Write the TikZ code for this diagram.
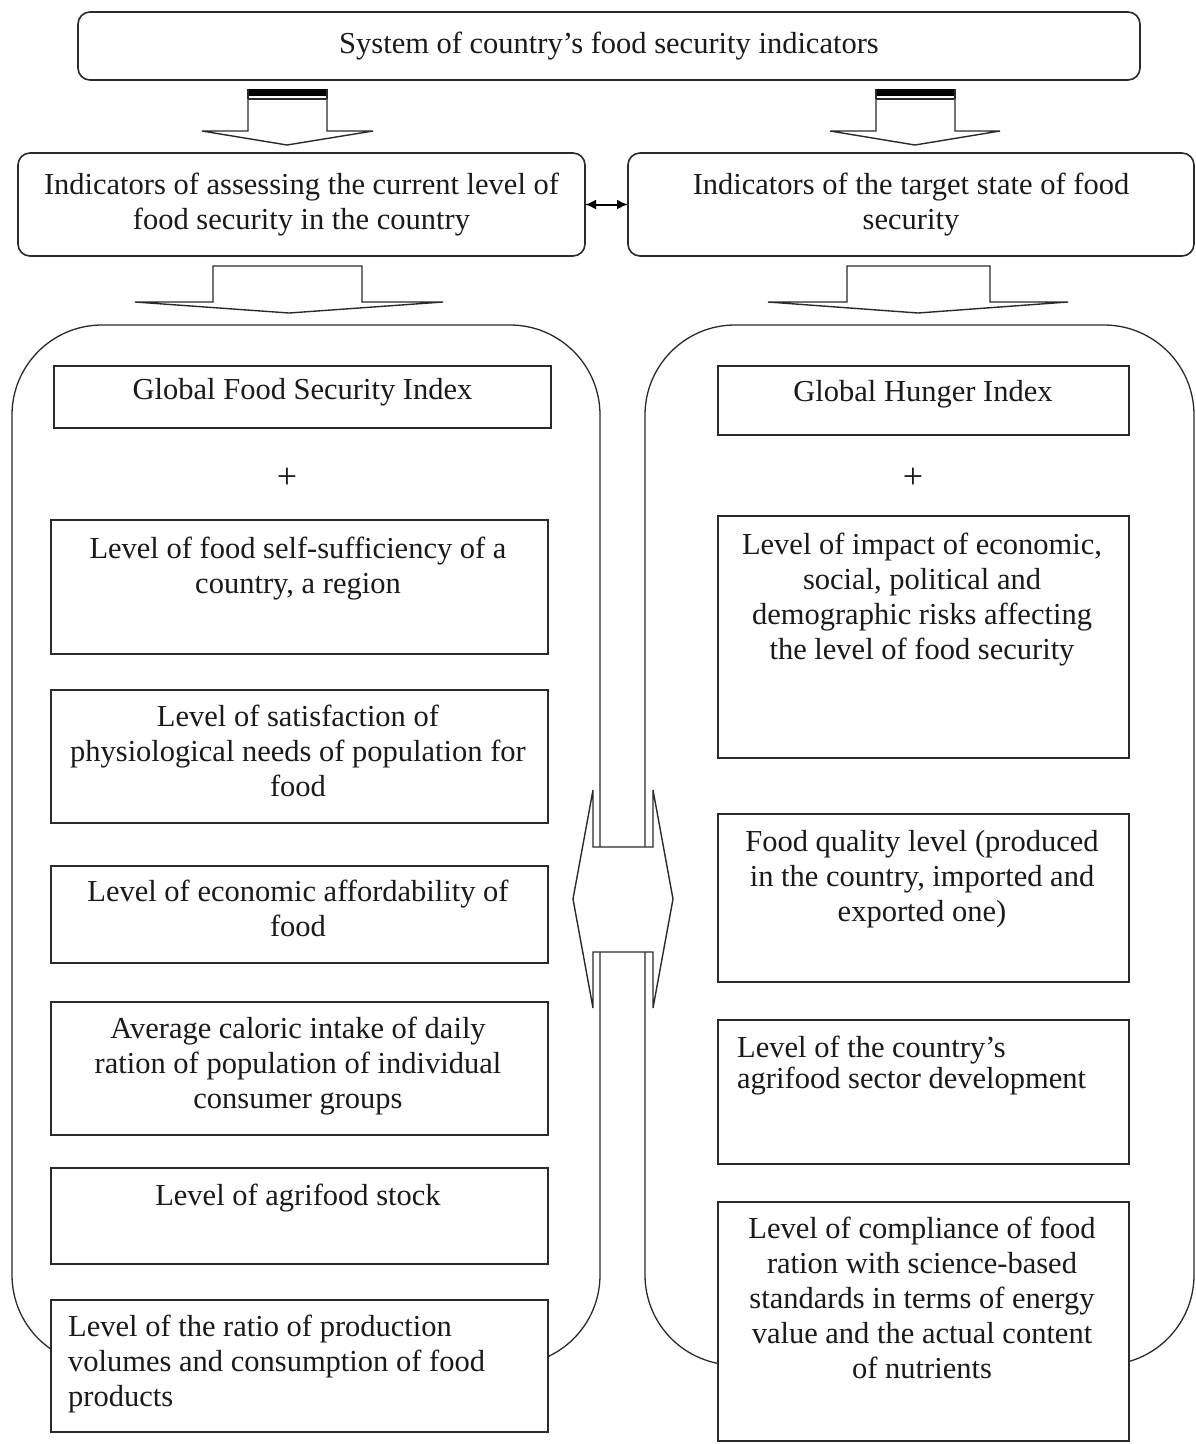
\documentclass[tikz,border=0pt]{standalone}
\usepackage{fontspec}
\setmainfont{Liberation Serif}
\usetikzlibrary{arrows.meta,calc}
\definecolor{linec}{HTML}{2A2A2A}
\definecolor{textc}{HTML}{1A1A1A}
\newcommand{\mkbox}[6][]{\node[box,#1,minimum width={#4-#2},minimum height={#5-#3}] (#6) at ({(#2+#4)/2},{(#3+#5)/2}) {};}
\begin{document}
\begin{tikzpicture}[x=1pt,y=-1pt,
  box/.style={draw=linec,line width=1.6pt,fill=white,inner sep=0pt,outer sep=0pt},
  rbox/.style={box,rounded corners=12pt},
  cont/.style={draw=linec,line width=1.3pt,rounded corners=90pt},
  blk/.style={draw=linec,line width=1.4pt,fill=white,line join=miter},
  txt/.style={anchor=north,inner sep=0pt,align=center,text=textc,font=\fontsize{30.5pt}{35pt}\selectfont},
  ltxt/.style={txt,anchor=north west,align=left}]
\useasboundingbox (0,0) rectangle (1196,1444);
% containers
\draw[cont] (12,325) rectangle (600,1365);
\draw[cont] (645,325) rectangle (1194,1365);
% top box and middle boxes
\mkbox[rbox]{78}{12}{1140}{80}{top}
\mkbox[rbox]{18}{153}{585}{256}{midL}
\mkbox[rbox]{628}{153}{1194}{256}{midR}
\draw[{Latex[length=11pt,width=10pt]}-{Latex[length=11pt,width=10pt]},line width=2pt,draw=black] (midL.east) -- (midR.west);
% top block arrows
\fill[black] (248,89) rectangle (327,96);
\draw[blk] (248,99) -- (248,131) -- (202,131) -- (287,145) -- (373,131) -- (327,131) -- (327,99);
\draw[linec,line width=1.4pt] (248,89) -- (248,99) (327,89) -- (327,99) (248,99) -- (327,99);
\fill[black] (876,89) rectangle (955,96);
\draw[blk] (876,99) -- (876,131) -- (830,131) -- (915,145) -- (1000,131) -- (955,131) -- (955,99);
\draw[linec,line width=1.4pt] (876,89) -- (876,99) (955,89) -- (955,99) (876,99) -- (955,99);
% lower block arrows
\draw[blk] (213,266) -- (213,302) -- (135,302) -- (289,313) -- (443,302) -- (362,302) -- (362,266) -- cycle;
\draw[blk] (847,266) -- (847,302) -- (768,302) -- (918,313) -- (1068,302) -- (990,302) -- (990,266) -- cycle;
% middle double block arrow
\draw[blk] (573,899) -- (593,790) -- (593,847) -- (653,847) -- (653,790) -- (673,899) -- (653,1008) -- (653,952) -- (593,952) -- (593,1008) -- cycle;
% left column
\mkbox{54}{366}{551}{428}{gfsi}
\mkbox{51}{520}{548}{654}{selfs}
\mkbox{51}{690}{548}{823}{satis}
\mkbox{51}{866}{548}{963}{afford}
\mkbox{51}{1002}{548}{1135}{calor}
\mkbox{51}{1168}{548}{1264}{stock}
\mkbox{51}{1300}{548}{1432}{ratio}
% right column
\mkbox{718}{366}{1129}{435}{ghi}
\mkbox{718}{516}{1129}{758}{impact}
\mkbox{718}{814}{1129}{982}{quality}
\mkbox{718}{1020}{1129}{1164}{agri}
\mkbox{718}{1202}{1129}{1441}{compl}
% texts
\node[txt] (t-top) at (609,28.5) {\strut System of country’s food security indicators};
\node[txt] (t-midL) at (301.5,169.5) {\strut Indicators of assessing the current level of\\food security in the country};
\node[txt] (t-midR) at (911,169.5) {\strut Indicators of the target state of food\\security};
\node[txt] (t-gfsi) at (302.5,374.5) {\strut Global Food Security Index};
\node[txt,font=\fontsize{36pt}{35pt}\selectfont] (t-plusL) at (287,464) {\strut +};
\node[txt] (t-selfs) at (298,533.5) {\strut Level of food self-sufficiency of a\\country, a region};
\node[txt] (t-satis) at (298,701.5) {\strut Level of satisfaction of\\physiological needs of population for\\food};
\node[txt] (t-afford) at (298,876.5) {\strut Level of economic affordability of\\food};
\node[txt] (t-calor) at (298,1013.5) {\strut Average caloric intake of daily\\ration of population of individual\\consumer groups};
\node[txt] (t-stock) at (298,1180.5) {\strut Level of agrifood stock};
\node[ltxt] (t-ratio) at (68,1311.5) {\strut Level of the ratio of production\\volumes and consumption of food\\products};
\node[txt] (t-ghi) at (923,376.5) {\strut Global Hunger Index};
\node[txt,font=\fontsize{36pt}{35pt}\selectfont] (t-plusR) at (913,464) {\strut +};
\node[txt] (t-impact) at (922,529.5) {\strut Level of impact of economic,\\social, political and\\demographic risks affecting\\the level of food security};
\node[txt] (t-quality) at (922,826.5) {\strut Food quality level (produced\\in the country, imported and\\exported one)};
\node[ltxt] (t-agri) at (737,1032.5) {\strut Level of the country’s\\[-4pt]agrifood sector development};
\node[txt] (t-compl) at (922,1213.5) {\strut Level of compliance of food\\ration with science-based\\standards in terms of energy\\value and the actual content\\of nutrients};
\end{tikzpicture}
\end{document}
